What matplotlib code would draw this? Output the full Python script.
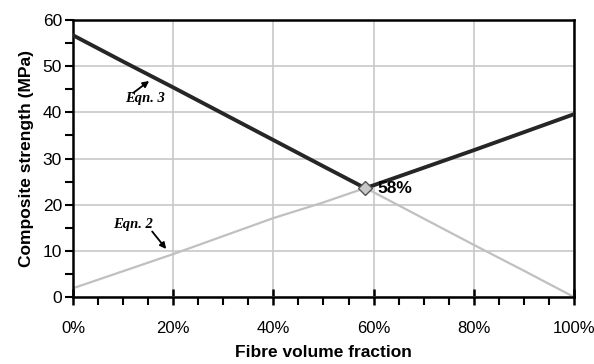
import matplotlib
matplotlib.use('Agg')
import matplotlib.pyplot as plt
from matplotlib.ticker import MultipleLocator, PercentFormatter

plt.rcParams['font.family'] = ['Liberation Sans', 'DejaVu Sans']

# fibre volume fraction (0..1)
vf = [0.0, 0.1, 0.2, 0.3, 0.4, 0.5, 0.583, 0.6, 0.7, 0.8, 0.9, 1.0]
# upper envelope (dark) and lower envelope (grey), MPa
upper = [56.7, 51.0, 45.4, 39.7, 34.0, 28.3, 23.6, 24.2, 28.0, 31.8, 35.7, 39.6]
lower = [1.9, 5.6, 9.3, 13.2, 17.1, 20.5, 23.6, 22.7, 17.0, 11.3, 5.7, 0.0]

cross_x = 0.583
cross_y = 23.6
cross_label = '58%'

fig = plt.figure(figsize=(5.94, 3.64), dpi=100)
ax = fig.add_axes([0.1229, 0.184, 0.8434, 0.761])

ax.plot(vf, lower, color='#c0c0c0', lw=1.6, zorder=2)
ax.plot(vf, upper, color='#262626', lw=2.8, zorder=3)
ax.plot([cross_x], [cross_y], marker='D', ms=7, mfc='#c8c8c8', mec='#555555', mew=1, zorder=4)
ax.text(cross_x + 0.025, cross_y, cross_label, fontsize=12.5, fontweight='bold',
        va='center', ha='left')

eqn_font = dict(fontsize=10.5, fontstyle='italic', fontweight='bold',
                family='Liberation Serif', ha='center', va='center')
arrow = dict(arrowstyle='-|>', color='black', lw=1.3, mutation_scale=9,
             shrinkA=0, shrinkB=0)

ax.text(0.144, 42.9, 'Eqn. 3', **eqn_font)
ax.annotate('', xy=(0.152, 46.8), xytext=(0.12, 44.2), arrowprops=arrow)
ax.text(0.12, 15.8, 'Eqn. 2', **eqn_font)
ax.annotate('', xy=(0.186, 10.4), xytext=(0.158, 14.2), arrowprops=arrow)

ax.set_xlim(0, 1)
ax.set_ylim(0, 60)
ax.xaxis.set_major_locator(MultipleLocator(0.2))
ax.xaxis.set_minor_locator(MultipleLocator(0.05))
ax.xaxis.set_major_formatter(PercentFormatter(1.0, decimals=0))
ax.yaxis.set_major_locator(MultipleLocator(10))
ax.yaxis.set_minor_locator(MultipleLocator(5))

ax.grid(which='major', color='#c8c8c8', lw=1.2, zorder=0)
ax.set_axisbelow(True)
for s in ax.spines.values():
    s.set_linewidth(1.8)
    s.set_color('black')

ax.tick_params(axis='x', which='major', direction='inout', length=12, width=1.8,
               pad=11, labelsize=12)
ax.tick_params(axis='x', which='minor', direction='out', length=6, width=1.5)
ax.tick_params(axis='y', which='both', direction='out', length=6, width=1.5,
               labelsize=12.5, pad=2)

ax.set_xlabel('Fibre volume fraction', fontsize=12.5, fontweight='bold', labelpad=7)
ax.set_ylabel('Composite strength (MPa)', fontsize=12.5, fontweight='bold', labelpad=6)

fig.savefig('out.png', dpi=100)
